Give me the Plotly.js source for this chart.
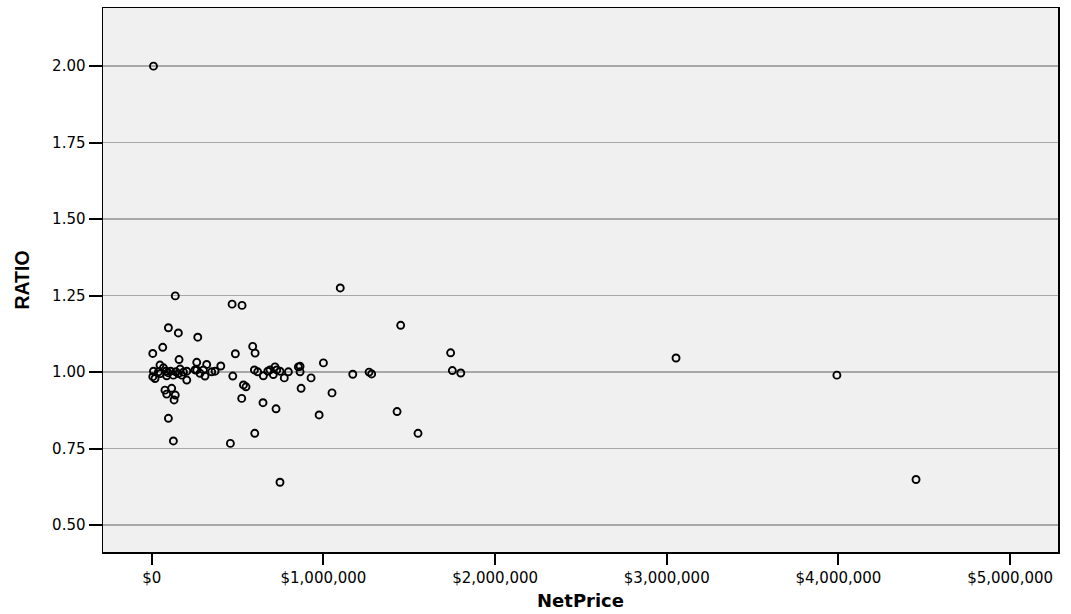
<!DOCTYPE html>
<html>
<head>
<meta charset="utf-8">
<script src="https://cdn.plot.ly/plotly-3.0.1.min.js"></script>
<style>
  html, body { margin: 0; padding: 0; background: #ffffff; }
  #chart { width: 1071px; height: 614px; }
</style>
</head>
<body>
<div id="chart"></div>
<script>
// Net price of each sale (dollars)
const netPrice = [
  10000, 137000, 468000, 526000, 1098000, 97000, 155000, 268000, 1450000,
  6000, 64000, 487000, 588000, 602000, 1741000, 159000, 48000, 68000,
  262000, 320000, 402000, 1000000, 3054000,
  10000, 39000, 83000, 110000, 141000, 165000, 204000, 252000, 262000,
  301000, 349000, 369000, 598000, 617000, 676000, 689000, 718000, 728000,
  747000, 796000, 854000, 864000, 864000, 1751000, 1800000, 1266000,
  1281000, 1171000, 3991000,
  6000, 19000, 87000, 126000, 175000, 204000, 281000, 310000, 472000,
  650000, 708000, 772000, 928000, 534000, 549000, 116000, 870000,
  77000, 87000, 137000, 130000, 524000, 648000, 724000, 1050000, 975000,
  1429000, 97000, 126000, 458000, 600000, 1551000, 747000, 4452000,
  50000, 95000, 155000, 185000
];

// Ratio for each sale
const ratio = [
  2.000, 1.249, 1.222, 1.218, 1.275, 1.145, 1.128, 1.114, 1.153,
  1.061, 1.081, 1.060, 1.084, 1.062, 1.063, 1.041, 1.023, 1.014,
  1.032, 1.025, 1.020, 1.030, 1.046,
  1.003, 1.001, 1.003, 1.003, 1.001, 1.010, 1.003, 1.007, 1.007,
  1.007, 1.001, 1.003, 1.007, 1.001, 1.003, 1.007, 1.017, 1.007,
  1.003, 1.001, 1.017, 1.019, 1.001, 1.005, 0.997, 1.000,
  0.994, 0.993, 0.990,
  0.985, 0.979, 0.988, 0.990, 0.990, 0.974, 0.996, 0.987, 0.987,
  0.988, 0.992, 0.981, 0.981, 0.958, 0.952, 0.947, 0.947,
  0.941, 0.928, 0.925, 0.909, 0.914, 0.900, 0.880, 0.932, 0.860,
  0.871, 0.849, 0.775, 0.767, 0.800, 0.800, 0.640, 0.649,
  0.995, 0.998, 0.995, 1.000
];

// Axis ticks and their labels
const xTicks = [0, 1000000, 2000000, 3000000, 4000000, 5000000];
const xTickLabels = ['$0', '$1,000,000', '$2,000,000', '$3,000,000', '$4,000,000', '$5,000,000'];
const yTicks = [0.50, 0.75, 1.00, 1.25, 1.50, 1.75, 2.00];
const yTickLabels = ['0.50', '0.75', '1.00', '1.25', '1.50', '1.75', '2.00'];

const tickFont = 'DejaVu Sans, Liberation Sans, Arial, sans-serif';

const trace = {
  type: 'scatter',
  mode: 'markers',
  x: netPrice,
  y: ratio,
  marker: {
    symbol: 'circle-open',
    size: 7,
    color: '#000000',
    line: { color: '#000000', width: 1.9 }
  },
  hoverinfo: 'x+y'
};

const layout = {
  width: 1071,
  height: 614,
  margin: { l: 103, r: 13, t: 8, b: 62 },
  paper_bgcolor: '#ffffff',
  plot_bgcolor: '#f0f0f0',
  showlegend: false,
  font: { family: tickFont, size: 15, color: '#000000' },
  xaxis: {
    range: [-284000, 5279000],
    tickmode: 'array',
    tickvals: xTicks,
    ticktext: xTickLabels,
    ticks: 'outside',
    ticklen: 11,
    tickwidth: 2,
    tickcolor: '#000000',
    showgrid: false,
    zeroline: false,
    showline: true,
    linecolor: '#000000',
    linewidth: 1.5,
    mirror: true,
    tickfont: { family: tickFont, size: 15, color: '#000000' },
    title: {
      text: 'NetPrice',
      font: { family: 'DejaVu Sans, Liberation Sans, Arial, sans-serif', size: 18, weight: 'bold', color: '#000000' },
      standoff: 9
    }
  },
  yaxis: {
    range: [0.412, 2.19],
    tickmode: 'array',
    tickvals: yTicks,
    ticktext: yTickLabels,
    ticks: 'outside',
    ticklen: 13,
    tickwidth: 2,
    tickcolor: '#000000',
    showgrid: true,
    gridcolor: '#a8a8a8',
    gridwidth: 1.5,
    zeroline: false,
    showline: true,
    linecolor: '#000000',
    linewidth: 1.5,
    mirror: true,
    tickfont: { family: tickFont, size: 15, color: '#000000' },
    title: {
      text: 'RATIO',
      font: { family: 'Liberation Sans, Arial, sans-serif', size: 19.5, weight: 'bold', color: '#000000' },
      standoff: 17
    }
  }
};

Plotly.newPlot('chart', [trace], layout, { displayModeBar: false, staticPlot: true });
</script>
</body>
</html>
